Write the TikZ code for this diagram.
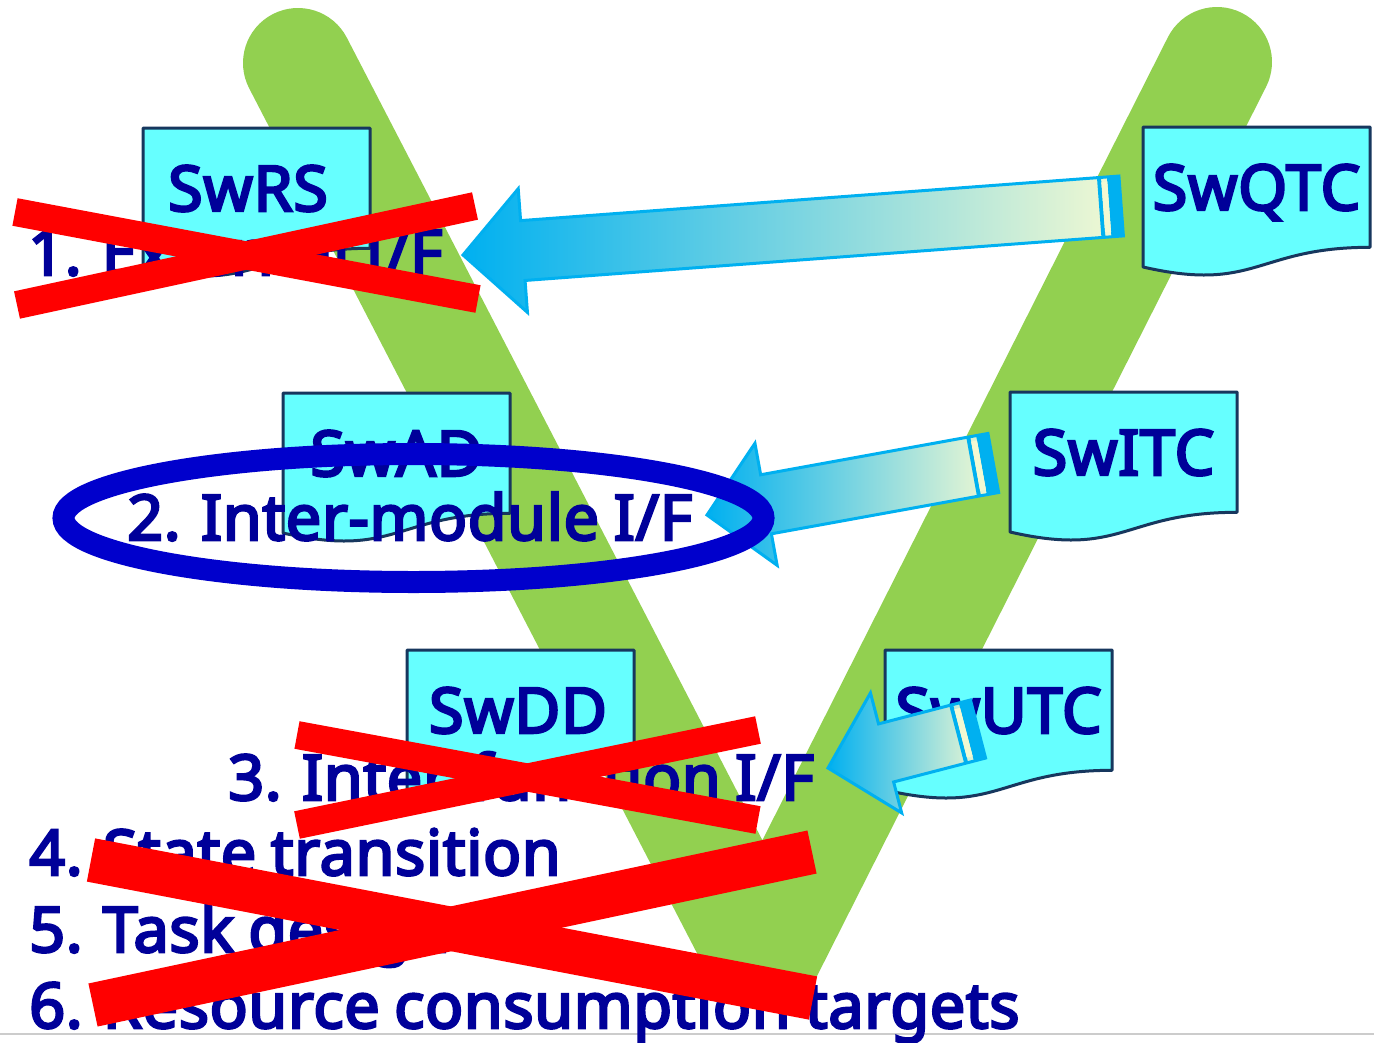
\documentclass[tikz,border=0pt]{standalone}
\usepackage{fontspec}
\setmainfont{Noto Sans}
\newfontfamily\lblfont{Noto Sans}[FakeBold=4, WordSpace=0.85, LetterSpace=1]
\usetikzlibrary{calc}
\definecolor{vgreen}{HTML}{92D050}
\definecolor{doccyan}{HTML}{66FFFF}
\definecolor{docline}{HTML}{17375E}
\definecolor{txtblue}{HTML}{000099}
\definecolor{xred}{HTML}{FF0000}
\definecolor{ellblue}{HTML}{0000CC}
\definecolor{arrblue}{HTML}{00B0F0}
\definecolor{arrlight}{HTML}{F3F9D2}
\newcommand\blockarrow[1]{%
  \path[arrowbody] (0,0) -- (60,-62) -- (60,-30) -- (#1,-30) -- (#1,30) -- (60,30) -- (60,62) -- cycle;
  \fill[arrblue] (#1-12,-30) rectangle (#1,30);
  \fill[arrblue] (#1-22,-30) rectangle (#1-18,30);
  \fill[arrlight] (#1-18,-25) rectangle (#1-12,25);
  \draw[arrblue, line width=3, line join=miter] (0,0) -- (60,-62) -- (60,-30) -- (#1,-30) -- (#1,30) -- (60,30) -- (60,62) -- cycle;
}
\tikzset{
  docshape/.style={fill=doccyan, draw=docline, line width=3, line join=round},
  lbl/.style={font=\lblfont\fontsize{63}{76}\selectfont, text=txtblue, inner sep=0pt},
  arrowbody/.style={left color=arrblue, right color=arrlight},
  cross/.style={draw=xred, line width=#1},
  doc/.pic={\path[docshape] (0,0) -- (227,0) -- (227,120.3) .. controls (113.5,120.3) and (113.5,166) .. (0,140) -- cycle;}
}
\begin{document}
\begin{tikzpicture}[x=1pt,y=-1pt]
\useasboundingbox (0,0) rectangle (1374,1042);
\fill[white] (0,0) rectangle (1374,1042);
\draw[black!20, line width=2] (0,1034) -- (1374,1034);
% green V
\draw[vgreen, line width=110, line cap=round, line join=bevel] (298,63) -- (763,961) -- (1217,62);
% documents
\pic at (143,128) {doc};
\pic at (283,393) {doc};
\pic at (407,650) {doc};
\pic at (1143,127) {doc};
\pic at (1010,392) {doc};
\pic at (885,650) {doc};
\node[lbl, anchor=base] (swrs) at (248,211) {SwRS};
\node[lbl, anchor=base] (swad) at (396.5,476) {SwAD};
\node[lbl, anchor=base] (swdd) at (518,733) {SwDD};
\node[lbl, anchor=base] (swqtc) at (1256.5,210) {SwQTC};
\node[lbl, anchor=base] (switc) at (1123.5,475) {SwITC};
\node[lbl, anchor=base] (swutc) at (998.5,733) {SwUTC};
% list texts
\node[lbl, anchor=base west] (t1) at (28,275) {1. External I/F};
\node[lbl, anchor=base west] (t2) at (127,540) {2. Inter-module I/F};
\node[lbl, anchor=base west] (t3) at (228,800) {3. Inter-function I/F};
\node[lbl, anchor=base west] (t4) at (29,875) {4. State transition};
\node[lbl, anchor=base west] (t5) at (29,952) {5. Task design};
\node[lbl, anchor=base west] (t6) at (29,1028) {6. Resource consumption targets};
% arrows
\begin{scope}[shift={(463,255)}, rotate=4.26]
  \blockarrow{660}
\end{scope}
\begin{scope}[shift={(707,515)}, rotate=10.3]
  \blockarrow{291}
\end{scope}
\begin{scope}[shift={(828,768)}, rotate=14.57]
  \blockarrow{155}
\end{scope}
% ellipse
\draw[ellblue, line width=22] (413.5,518) ellipse [x radius=350, y radius=64];
% red crosses
\draw[cross=28] (15,212) -- (478,299);
\draw[cross=28] (17,305) -- (475,206);
\draw[cross=28] (297,735) -- (758,820);
\draw[cross=28] (297,825) -- (758,730);
\draw[cross=44] (91,860) -- (813,998);
\draw[cross=44] (93,1005) -- (812,852);
\end{tikzpicture}
\end{document}
